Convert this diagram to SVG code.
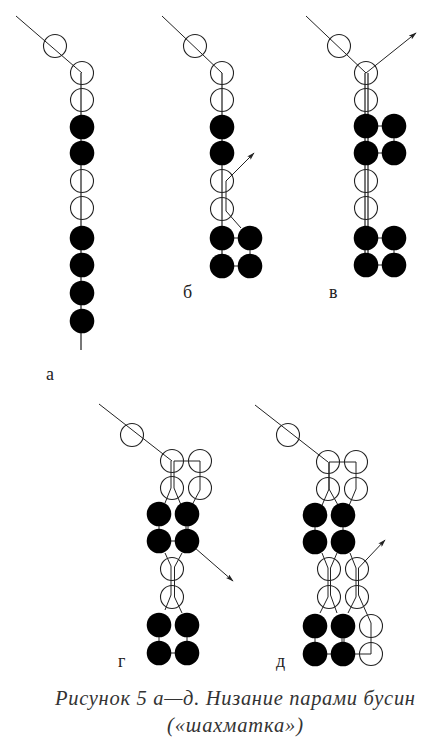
<svg xmlns="http://www.w3.org/2000/svg" width="428" height="745" viewBox="0 0 428 745">
<defs>
<marker id="ah" viewBox="0 0 10 6" refX="9" refY="3" markerWidth="8" markerHeight="5" markerUnits="userSpaceOnUse" orient="auto"><path d="M0 0L10 3L0 6L2 3Z" fill="#222"/></marker>
<circle id="w" r="11.5" fill="none" stroke="#222" stroke-width="1.1"/>
<circle id="b" r="12.3" fill="#000"/>
</defs>
<style>
.c{fill:none;stroke:#222;stroke-width:1;stroke-linejoin:miter}
.g{fill:none;stroke:#555;stroke-width:1.6}
.a{marker-end:url(#ah)}
text{font-family:"Liberation Serif","DejaVu Serif",serif;fill:#222}
.l{font-size:18px}
.t{font-size:20.5px;font-style:italic;fill:#333}
</style>
<rect width="428" height="745" fill="#fff"/>
<g id="connectors">
<path class="c" d="M16 16L82 73"/><path class="g" d="M81 73V350"/>
<path class="c" d="M162 16L222 73"/><path class="g" d="M222 73V266"/>
<path class="c a" d="M241 228L226 211V181L254 153"/>
<path class="c" d="M222 238H250V266H222"/>
<path class="c" d="M306 16L366 73"/><path class="c a" d="M366 73L416 33"/>
<path class="g" d="M365 73V265"/><path class="g" d="M368 73V265"/>
<path class="c" d="M366 126H394V153H366M366 238H394V265H366"/>
<path class="c" d="M99 404L172 461"/>
<path class="c" d="M171 461V488L165 503M174 461V488L181 505M174 461H200V490L192 505"/>
<path class="c" d="M159 514V541H187M186 514V541M188 514V541"/>
<path class="c" d="M165 553L171 566V595L165 610M182 553L174.500 567V597L182 613"/>
<path class="c a" d="M187 541L233 581"/>
<path class="c" d="M159 625V653H187V625"/>
<path class="c" d="M255 405L328 462"/>
<path class="c" d="M329 462V489L320 510M329 462V489L338 505M329 462H356V489L348 508"/>
<path class="c" d="M315 515V542M343 515V542"/>
<path class="c" d="M322 553L328 568V597L320 613M337 553L330.500 568V595L337 613"/>
<path class="c" d="M350 553L356 568V597L348 613"/>
<path class="c a" d="M358.500 568L385 540"/>
<path class="c" d="M358.500 568V595L371 623V654H315V626"/>
<path class="c" d="M342 626V654M344 626V654"/>
</g>
<g id="bead-a"><use href="#w" x="55" y="46"/><use href="#w" x="82" y="73"/><use href="#w" x="82" y="100"/><use href="#b" x="82" y="127"/><use href="#b" x="82" y="153"/><use href="#w" x="82" y="181"/><use href="#w" x="82" y="208"/><use href="#b" x="82" y="238"/><use href="#b" x="82" y="265"/><use href="#b" x="82" y="293"/><use href="#b" x="82" y="321"/></g>
<g id="bead-b"><use href="#w" x="195" y="46"/><use href="#w" x="222" y="73"/><use href="#w" x="222" y="100"/><use href="#b" x="222" y="127"/><use href="#b" x="222" y="153"/><use href="#w" x="222" y="181"/><use href="#w" x="222" y="209"/><use href="#b" x="222" y="238"/><use href="#b" x="222" y="266"/><use href="#b" x="250" y="238"/><use href="#b" x="250" y="266"/></g>
<g id="bead-v"><use href="#w" x="339" y="46"/><use href="#w" x="366" y="73"/><use href="#w" x="366" y="100"/><use href="#b" x="366" y="126"/><use href="#b" x="366" y="153"/><use href="#b" x="394" y="126"/><use href="#b" x="394" y="153"/><use href="#w" x="366" y="181"/><use href="#w" x="366" y="208"/><use href="#b" x="366" y="238"/><use href="#b" x="366" y="265"/><use href="#b" x="394" y="238"/><use href="#b" x="394" y="265"/></g>
<g id="bead-g"><use href="#w" x="132" y="435"/><use href="#w" x="172" y="461"/><use href="#w" x="200" y="461"/><use href="#w" x="172" y="488"/><use href="#w" x="200" y="488"/><use href="#b" x="159" y="514"/><use href="#b" x="187" y="514"/><use href="#b" x="159" y="541"/><use href="#b" x="187" y="541"/><use href="#w" x="172" y="569"/><use href="#w" x="172" y="597"/><use href="#b" x="159" y="625"/><use href="#b" x="187" y="625"/><use href="#b" x="159" y="653"/><use href="#b" x="187" y="653"/></g>
<g id="bead-d"><use href="#w" x="288" y="435"/><use href="#w" x="328" y="462"/><use href="#w" x="356" y="462"/><use href="#w" x="328" y="489"/><use href="#w" x="356" y="489"/><use href="#b" x="315" y="515"/><use href="#b" x="343" y="515"/><use href="#b" x="315" y="542"/><use href="#b" x="343" y="542"/><use href="#w" x="329" y="569"/><use href="#w" x="357" y="569"/><use href="#w" x="329" y="597"/><use href="#w" x="357" y="597"/><use href="#b" x="315" y="626"/><use href="#b" x="343" y="626"/><use href="#w" x="371" y="626"/><use href="#b" x="315" y="654"/><use href="#b" x="343" y="654"/><use href="#w" x="371" y="654"/></g>
<g id="labels">
<text class="l" x="46" y="380">а</text>
<text class="l" x="183" y="298">б</text>
<text class="l" x="329" y="298">в</text>
<text class="l" x="118" y="667">г</text>
<text class="l" x="276" y="667">д</text>
<text class="t" x="55" y="705" textLength="360" lengthAdjust="spacing">Рисунок 5 а—д. Низание парами бусин</text>
<text class="t" x="167" y="732" textLength="136" lengthAdjust="spacing">(«шахматка»)</text>
</g>
</svg>
